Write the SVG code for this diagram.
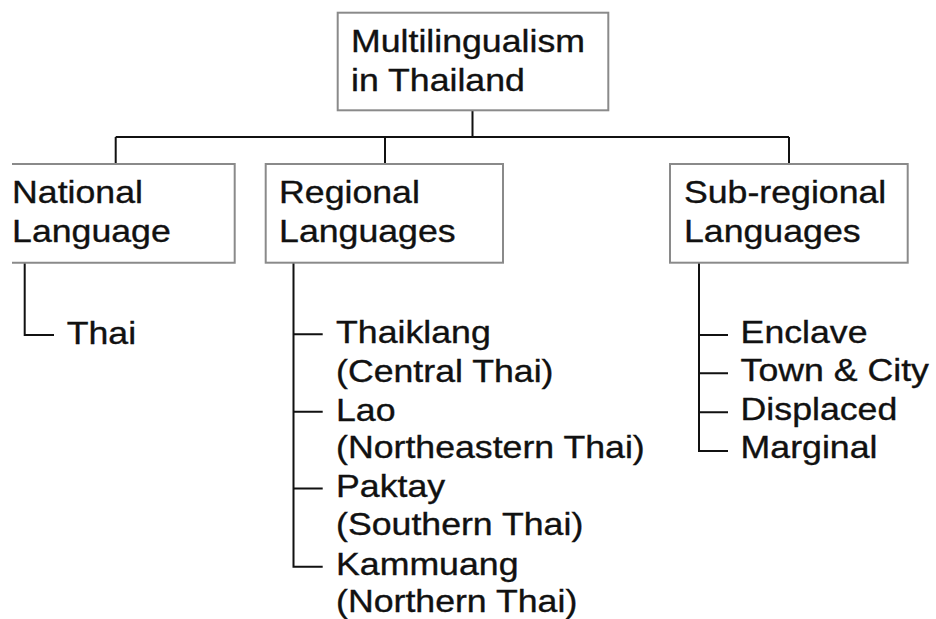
<svg xmlns="http://www.w3.org/2000/svg" width="936" height="619" viewBox="0 0 936 619">
<style>
.box{fill:#fff;stroke:#8a8a8a;stroke-width:2}
.ln{fill:none;stroke:#111;stroke-width:2}
.t{font-family:"Liberation Sans",Arial,sans-serif;font-size:30.5px;fill:#111;stroke:#111;stroke-width:0.35}
</style>
<rect width="936" height="619" fill="#fff"/>
<g id="connectors" class="ln">
<path d="M472.5,110.3V137M115.7,137H789M115.7,137V164M385,137V164M789,137V164"/>
<path d="M24.7,262.7V335H54"/>
<path d="M293.5,262.7V566.7H322.7M293.5,334.3H322.7M293.5,411.7H322.7M293.5,488.5H322.7"/>
<path d="M699,262.7V451H728M699,335H728M699,373.3H728M699,412.3H728"/>
</g>
<g id="root">
<rect class="box" x="337.7" y="12.7" width="270.6" height="97.6"/>
<g transform="scale(1.17 1)"><text class="t" x="300" y="52">Multilingualism</text><text class="t" x="300" y="90.7">in Thailand</text></g>
</g>
<g id="national">
<path class="box" d="M12,164H234.7V262.7H12"/>
<g transform="scale(1.17 1)"><text class="t" x="10.3" y="203">National</text><text class="t" x="10.3" y="242">Language</text></g>
</g>
<g id="regional">
<rect class="box" x="265.7" y="164" width="237.3" height="98.7"/>
<g transform="scale(1.17 1)"><text class="t" x="238.5" y="203">Regional</text><text class="t" x="238.5" y="242">Languages</text></g>
</g>
<g id="subregional">
<rect class="box" x="670" y="164" width="237.7" height="98.7"/>
<g transform="scale(1.17 1)"><text class="t" x="584.6" y="203">Sub-regional</text><text class="t" x="584.6" y="242">Languages</text></g>
</g>
<g id="thai">
<g transform="scale(1.17 1)"><text class="t" x="57" y="344.3">Thai</text></g>
</g>
<g id="regional-items" transform="scale(1.17 1)">
<text class="t" x="287.2" y="343.3">Thaiklang</text>
<text class="t" x="287.2" y="381.7">(Central Thai)</text>
<text class="t" x="287.2" y="420.7">Lao</text>
<text class="t" x="287.2" y="458.3">(Northeastern Thai)</text>
<text class="t" x="287.2" y="497.3">Paktay</text>
<text class="t" x="287.2" y="535">(Southern Thai)</text>
<text class="t" x="287.2" y="575">Kammuang</text>
<text class="t" x="287.2" y="612">(Northern Thai)</text>
</g>
<g id="subregional-items" transform="scale(1.17 1)">
<text class="t" x="633" y="343.3">Enclave</text>
<text class="t" x="633" y="381">Town &amp; City</text>
<text class="t" x="633" y="420">Displaced</text>
<text class="t" x="633" y="458.3">Marginal</text>
</g>
</svg>
